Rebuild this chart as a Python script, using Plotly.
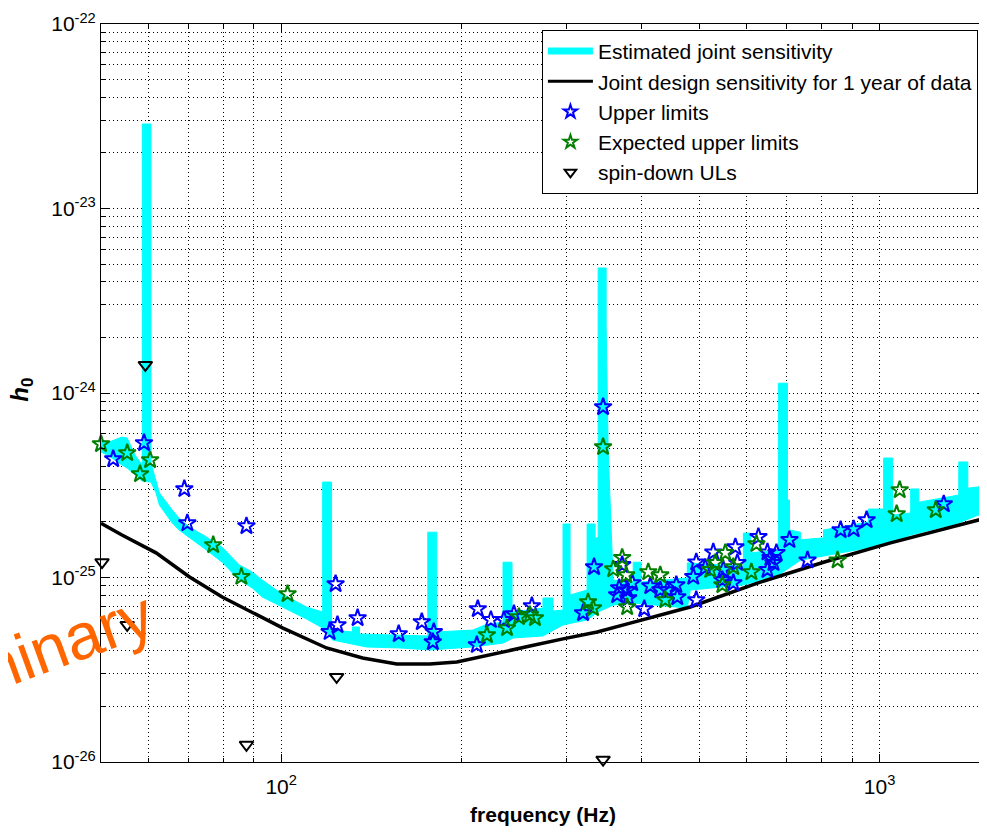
import plotly.graph_objects as go

# ---- Estimated joint sensitivity (band: upper envelope incl. lines, lower envelope) ----
sens_up_freq = [50, 51.6, 54.2, 55.3, 57.0, 58.6, 58.6, 60.6, 60.6, 61.8, 62.6, 65.8, 67.5, 70.2,
                75.0, 79.7, 85.1, 89.5, 93.0, 98.2, 103.3, 110.2, 117.3, 117.3, 121.4, 121.4,
                131.6, 131.6, 135.2, 135.2, 175.8, 175.8, 182.0, 182.0, 209.1, 219.0, 234.8,
                234.8, 243.1, 243.1, 273.8, 273.8, 284.6, 284.6, 295.8, 295.8, 303.9, 303.9,
                324.5, 324.5, 334.7, 334.7, 338.6, 338.6, 349.2, 349.2, 351.9, 356.0, 358.8,
                387.5, 387.5, 399.6, 399.6, 477.1, 477.1, 592.1, 592.1, 608.3, 608.3, 677.4,
                677.4, 701.4, 701.4, 706.8, 706.8, 737.4, 737.4, 805.8, 805.8, 958.5, 958.5,
                1015.6, 1015.6, 1051.4, 1051.4, 1127, 1127, 1162.7, 1162.7, 1356, 1356, 1404,
                1404, 1505]
sens_up_h0 = [5.56e-25, 5.43e-25, 5.77e-25, 5.70e-25, 4.61e-25, 4.07e-25, 2.87e-23, 2.87e-23,
              4.17e-25, 3.38e-25, 2.87e-25, 2.32e-25, 2.10e-25, 1.88e-25, 1.66e-25, 1.46e-25,
              1.17e-25, 1.07e-25, 9.69e-26, 8.55e-26, 7.74e-26, 6.92e-26, 6.50e-26, 3.29e-25,
              3.29e-25, 5.19e-26, 5.07e-26, 5.39e-26, 5.39e-26, 4.94e-26, 4.82e-26, 1.76e-25,
              1.76e-25, 5.07e-26, 5.19e-26, 5.53e-26, 5.74e-26, 1.21e-25, 1.21e-25, 6.50e-26,
              6.83e-26, 7.74e-26, 7.74e-26, 6.58e-26, 6.66e-26, 1.95e-25, 1.95e-25, 8.04e-26,
              8.55e-26, 1.95e-25, 1.95e-25, 1.64e-25, 1.64e-25, 4.76e-24, 4.76e-24, 2.28e-24,
              4.91e-25, 1.81e-25, 9.69e-26, 9.45e-26, 1.21e-25, 1.21e-25, 9.45e-26, 9.94e-26,
              1.20e-25, 1.15e-25, 1.74e-25, 1.74e-25, 1.36e-25, 1.41e-25, 1.13e-24, 1.13e-24,
              2.63e-25, 2.63e-25, 1.81e-25, 1.76e-25, 1.60e-25, 1.64e-25, 1.81e-25, 2.00e-25,
              2.35e-25, 2.35e-25, 4.44e-25, 4.44e-25, 2.18e-25, 2.24e-25, 3.02e-25, 3.02e-25,
              2.56e-25, 2.80e-25, 4.23e-25, 4.23e-25, 3.05e-25, 3.13e-25]
sens_lo_freq = [50, 51.6, 54.2, 55.3, 58.6, 60.6, 61.8, 62.6, 65.8, 67.5, 70.2, 75.0, 79.7, 85.1,
                89.5, 93.0, 98.2, 103.3, 110.2, 117.3, 121.9, 138.9, 157.8, 177.1, 209.1, 234.8,
                244.0, 273.8, 295.8, 324.5, 338.6, 358.8, 387.5, 477.1, 482.6, 592.1, 677.4,
                737.4, 805.8, 992.4, 1127, 1351, 1505]
sens_lo_h0 = [4.79e-25, 4.55e-25, 4.07e-25, 3.92e-25, 3.33e-25, 3.29e-25, 2.87e-25, 2.47e-25,
              1.97e-25, 1.81e-25, 1.64e-25, 1.41e-25, 1.21e-25, 9.69e-26, 8.77e-26, 7.84e-26,
              7.18e-26, 6.58e-26, 5.96e-26, 5.32e-26, 4.58e-26, 4.20e-26, 4.15e-26, 4.05e-26,
              4.20e-26, 4.41e-26, 4.70e-26, 4.82e-26, 5.53e-26, 5.89e-26, 6.50e-26, 7.09e-26,
              7.27e-26, 6.83e-26, 8.55e-26, 9.11e-26, 1.03e-25, 1.24e-25, 1.31e-25, 1.48e-25,
              1.70e-25, 1.97e-25, 2.26e-25]

# ---- Joint design sensitivity for 1 year of data ----
design_freq = [50, 54.2, 61.8, 70.2, 79.7, 90.9, 100.5, 119.1, 136.8, 156.0, 177.1, 196.6,
               229.4, 260.4, 295.8, 337.3, 383.0, 430.0, 482.6, 624.9, 805.9, 1043, 1505]
design_h0 = [1.97e-25, 1.70e-25, 1.36e-25, 1.01e-25, 7.84e-26, 6.27e-26, 5.33e-26, 4.15e-26,
             3.66e-26, 3.40e-26, 3.40e-26, 3.48e-26, 3.90e-26, 4.25e-26, 4.65e-26, 5.07e-26,
             5.66e-26, 6.27e-26, 6.92e-26, 9.33e-26, 1.21e-25, 1.54e-25, 2.10e-25]

# ---- Upper limits ----
ul_freq = [52.4, 59.0, 68.9, 69.7, 87.5, 123.3, 124.2, 120.5, 134.2, 157.2, 171.8, 179.9, 179.2,
           213.1, 224.1, 212.3, 235.6, 244.9, 262.4, 319.5, 333.3, 345.1, 364.3, 367.1, 371.4,
           378.6, 380.1, 386.0, 404.3, 413.8, 430.0, 441.8, 457.4, 459.1, 488.2, 493.9, 493.9,
           511.3, 527.3, 546.0, 548.1, 574.1, 578.5, 569.6, 627.3, 649.5, 657.0, 672.4, 649.5,
           664.7, 706.9, 757.8, 860.6, 904.9, 951.3, 1279.9]
ul_h0 = [4.39e-25, 5.36e-25, 3.02e-25, 1.97e-25, 1.90e-25, 9.22e-26, 5.53e-26, 5.07e-26, 6.03e-26,
         4.94e-26, 5.74e-26, 5.07e-26, 4.47e-26, 6.75e-26, 5.89e-26, 4.31e-26, 5.89e-26, 6.34e-26,
         7.01e-26, 6.42e-26, 1.14e-25, 8.40e-25, 8.04e-26, 8.77e-26, 1.17e-25, 8.55e-26, 7.74e-26,
         9.34e-26, 6.75e-26, 8.99e-26, 8.55e-26, 8.55e-26, 9.11e-26, 7.84e-26, 1.01e-25, 1.21e-25,
         7.55e-26, 1.13e-25, 1.37e-25, 9.69e-26, 1.10e-25, 1.46e-25, 1.20e-25, 9.34e-26, 1.66e-25,
         1.37e-25, 1.28e-25, 1.36e-25, 1.10e-25, 1.20e-25, 1.60e-25, 1.24e-25, 1.81e-25, 1.83e-25,
         2.05e-25, 2.50e-25]

# ---- Expected upper limits ----
exp_freq = [50.0, 55.3, 58.1, 60.4, 77.0, 85.8, 102.5, 220.7, 238.4, 249.6, 260.4, 265.5, 325.7,
            332.0, 345.1, 358.8, 371.4, 377.2, 378.6, 410.6, 430.0, 438.4, 521.2, 531.4, 552.3,
            569.6, 546.0, 610.6, 622.5, 850.7, 1067.9, 1080.3, 1241]
exp_h0 = [5.29e-25, 4.73e-25, 3.64e-25, 4.33e-25, 1.50e-25, 1.01e-25, 8.14e-26, 4.88e-26, 5.32e-26,
          6.11e-26, 6.27e-26, 6.03e-26, 7.36e-26, 6.83e-26, 5.10e-25, 1.11e-25, 1.28e-25, 1.03e-25,
          6.92e-26, 1.07e-25, 1.03e-25, 7.55e-26, 1.10e-25, 1.20e-25, 1.36e-25, 1.14e-25, 9.11e-26,
          1.07e-25, 1.52e-25, 1.24e-25, 2.21e-25, 2.98e-25, 2.32e-25]

# ---- spin-down ULs ----
sd_freq = [50.2, 55.3, 59.3, 87.5, 123.8, 345.1]
sd_h0 = [1.21e-25, 5.53e-26, 1.42e-24, 1.24e-26, 2.89e-26, 1.03e-26]

# ---- ticks ----
x_tick_vals = [100, 1000]
x_tick_text = ["10<sup>2</sup>", "10<sup>3</sup>"]
y_tick_vals = [1e-26, 1e-25, 1e-24, 1e-23, 1e-22]
y_tick_text = ["10<sup>-26</sup>", "10<sup>-25</sup>", "10<sup>-24</sup>",
               "10<sup>-23</sup>", "10<sup>-22</sup>"]

FONT = "Liberation Sans, Arial, Helvetica, sans-serif"
CYAN = "#00FFFF"
BLUE = "#0000FF"
GREEN = "#007F00"

fig = go.Figure()

# band of the estimated sensitivity
fig.add_trace(go.Scatter(
    x=sens_up_freq + sens_lo_freq[::-1],
    y=sens_up_h0 + sens_lo_h0[::-1],
    mode="lines", fill="toself", fillcolor=CYAN,
    line=dict(color=CYAN, width=1), showlegend=False, hoverinfo="skip"))
fig.add_trace(go.Scatter(x=design_freq, y=design_h0, mode="lines",
                         line=dict(color="black", width=3.5), showlegend=False))
fig.add_trace(go.Scatter(x=ul_freq, y=ul_h0, mode="markers", cliponaxis=False, showlegend=False,
                         marker=dict(symbol="star-open", size=13, color=BLUE,
                                     line=dict(width=2, color=BLUE))))
fig.add_trace(go.Scatter(x=exp_freq, y=exp_h0, mode="markers", cliponaxis=False, showlegend=False,
                         marker=dict(symbol="star-open", size=13, color=GREEN,
                                     line=dict(width=2, color=GREEN))))
fig.add_trace(go.Scatter(x=sd_freq, y=sd_h0, mode="markers", cliponaxis=False, showlegend=False,
                         marker=dict(symbol="triangle-down-open", size=12, color="black",
                                     line=dict(width=2, color="black"))))

# legend entries (styled like the reference legend)
fig.add_trace(go.Scatter(x=[None], y=[None], mode="lines",
                         line=dict(color=CYAN, width=7), name="Estimated joint sensitivity"))
fig.add_trace(go.Scatter(x=[None], y=[None], mode="lines",
                         line=dict(color="black", width=3),
                         name="Joint design sensitivity for 1 year of data"))
fig.add_trace(go.Scatter(x=[None], y=[None], mode="markers", name="Upper limits",
                         marker=dict(symbol="star-open", size=10, color=BLUE,
                                     line=dict(width=2, color=BLUE))))
fig.add_trace(go.Scatter(x=[None], y=[None], mode="markers", name="Expected upper limits",
                         marker=dict(symbol="star-open", size=10, color=GREEN,
                                     line=dict(width=2, color=GREEN))))
fig.add_trace(go.Scatter(x=[None], y=[None], mode="markers", name="spin-down ULs",
                         marker=dict(symbol="triangle-down-open", size=10, color="black",
                                     line=dict(width=2, color="black"))))

grid_common = dict(showgrid=True, gridcolor="black", gridwidth=1, griddash="1px,3px")

fig.update_xaxes(
    type="log", range=[1.69897, 3.17609], automargin=False,
    tickmode="array", tickvals=x_tick_vals, ticktext=x_tick_text,
    ticks="inside", ticklen=8, tickcolor="black", ticklabelstandoff=6,
    showline=True, linecolor="black", linewidth=1, mirror="allticks",
    tickfont=dict(family=FONT, size=21, color="black"),
    minor=dict(dtick="D1", ticks="inside", ticklen=4, tickcolor="black",
               showgrid=True, gridcolor="black", gridwidth=1, griddash="1px,3px"),
    title=dict(text="<b>frequency (Hz)</b>", font=dict(family=FONT, size=21, color="black"),
               standoff=10),
    zeroline=False, **grid_common)
fig.update_yaxes(
    type="log", range=[-26, -22], automargin=False,
    tickmode="array", tickvals=y_tick_vals, ticktext=y_tick_text,
    ticks="inside", ticklen=8, tickcolor="black",
    showline=True, linecolor="black", linewidth=1, mirror="allticks",
    tickfont=dict(family=FONT, size=21, color="black"),
    minor=dict(dtick="D1", ticks="inside", ticklen=4, tickcolor="black",
               showgrid=True, gridcolor="black", gridwidth=1, griddash="1px,3px"),
    zeroline=False, **grid_common)

# y-axis title placed as an annotation for exact position
fig.add_annotation(text="<b><i>h</i><sub>0</sub></b>", xref="paper", yref="paper",
                   x=-0.090, y=0.505, xanchor="center", yanchor="middle",
                   textangle=-90, showarrow=False,
                   font=dict(family=FONT, size=24, color="black"))

fig.add_annotation(text="Preliminary", xref="paper", yref="paper",
                   x=-0.117, y=0.130, xanchor="center", yanchor="middle",
                   textangle=-20, showarrow=False,
                   font=dict(family=FONT, size=65, color="#FF6600"))

# the page adds an 8 px body margin, so the figure is sized to fit the window
fig.update_layout(
    width=979, height=825,
    margin=dict(l=93, r=2, t=16, b=71),
    paper_bgcolor="white", plot_bgcolor="white",
    font=dict(family=FONT, color="black"),
    legend=dict(x=0.992, y=0.992, xanchor="right", yanchor="top",
                bgcolor="white", bordercolor="black", borderwidth=1,
                font=dict(family=FONT, size=21, color="black"), itemwidth=45),
    showlegend=True,
)

fig.write_html("out.html")
